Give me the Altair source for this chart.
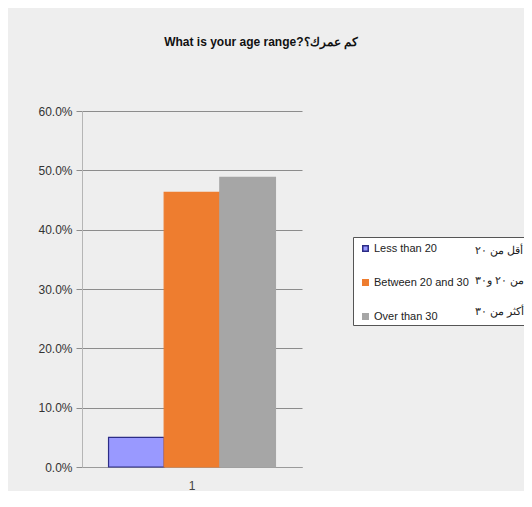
import altair as alt
import pandas as pd

categories = ["Less than 20", "Between 20 and 30", "Over than 30"]
arabic = ["أقل من ٢٠", "من ٢٠ و٣٠", "أكثر من ٣٠"]
values = [0.050, 0.463, 0.488]
group = ["1", "1", "1"]
colors = ["#9999ff", "#ee7d2f", "#a6a6a6"]
strokes = ["#2c2c86", "#ee7d2f", "#a6a6a6"]
y_ticks = [0, 0.1, 0.2, 0.3, 0.4, 0.5, 0.6]

df = pd.DataFrame({"group": group, "category": categories, "arabic": arabic, "value": values})

FONT = "Liberation Sans, Arial, sans-serif"

bars = alt.Chart(df).mark_bar(strokeWidth=1.2).encode(
    x=alt.X("group:N", title=None,
            scale=alt.Scale(paddingInner=0, paddingOuter=0.159),
            axis=alt.Axis(labelAngle=0, ticks=False, domainColor="#9a9a9a",
                          labelColor="#444", labelFont=FONT, labelFontSize=12,
                          labelPadding=13)),
    xOffset=alt.XOffset("category:N", sort=categories,
                        scale=alt.Scale(paddingInner=0, paddingOuter=0)),
    y=alt.Y("value:Q", title=None,
            scale=alt.Scale(domain=[0, 0.6], nice=False),
            axis=alt.Axis(values=y_ticks, format=".1%", grid=True, gridColor="#8c8c8c",
                          gridWidth=1, domainColor="#b5b5b5", tickColor="#8c8c8c",
                          tickSize=6, labelPadding=4, labelColor="#333",
                          labelFont=FONT, labelFontSize=12)),
    color=alt.Color("category:N", sort=categories,
                    scale=alt.Scale(domain=categories, range=colors),
                    legend=alt.Legend(title=None, orient="none", legendX=271, legendY=125,
                                      symbolType="square", symbolSize=30,
                                      labelFont=FONT, labelFontSize=11, labelColor="#222",
                                      labelOffset=3, rowPadding=21, padding=7,
                                      labelLimit=300, zindex=1)),
    stroke=alt.Stroke("category:N", sort=categories,
                      scale=alt.Scale(domain=categories, range=strokes), legend=None),
    opacity=alt.Opacity("arabic:O", sort=arabic,
                        scale=alt.Scale(domain=arabic, range=[1, 1]),
                        legend=alt.Legend(title=None, orient="none", legendX=271, legendY=126,
                                          symbolType="square", symbolSize=30, symbolOpacity=0,
                                          symbolStrokeWidth=0, symbolFillColor="transparent",
                                          labelFont=FONT, labelFontSize=11, labelColor="#222",
                                          labelOffset=103, rowPadding=18.5, padding=8,
                                          labelLimit=300, fillColor="white",
                                          strokeColor="#555", zindex=0)),
).properties(
    width=220,
    height=356,
    title=alt.TitleParams("What is your age range?كم عمرك؟", anchor="middle", dx=69,
                          offset=56, font=FONT, fontSize=12, fontWeight="bold", color="#111"),
    autosize=alt.AutoSizeParams(type="none"),
    padding={"left": 74, "top": 103, "right": 222, "bottom": 24},
    background="#eeeeee",
).configure_view(stroke=None)

chart = bars
chart.save("out.html", embed_options={"renderer": "svg", "actions": False})
